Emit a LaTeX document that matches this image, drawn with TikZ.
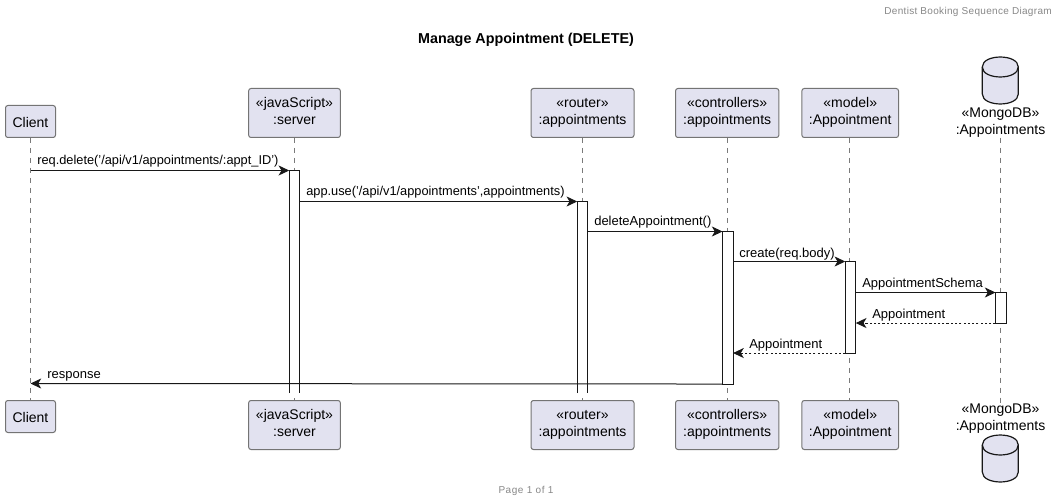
\documentclass[tikz,border=0pt]{standalone}
\usepackage{fontspec}
\setmainfont{Liberation Sans}
\newfontfamily\spaced[LetterSpace=5.5]{Liberation Sans}
\newfontfamily\hspaced[LetterSpace=3.2]{Liberation Sans}
\usetikzlibrary{arrows.meta,shapes.geometric}
\definecolor{pfill}{HTML}{E2E2F0}
\definecolor{pline}{HTML}{181818}
\definecolor{gtext}{HTML}{888888}
\definecolor{lifec}{HTML}{7A7A7A}
\tikzset{
 x=0.75pt,y=-0.75pt,
 part/.style={draw=pline!60,line width=0.75pt,fill=pfill,rounded corners=1.8pt,inner sep=0pt,align=center,font=\fontsize{10.5pt}{12.75pt}\selectfont,text=black,minimum height=36.75pt,
   execute at begin node={\rule{0pt}{11.4pt}},execute at end node={\rule[-2.5pt]{0pt}{2.5pt}}},
 single/.style={part,minimum height=24pt},
 dbtext/.style={inner sep=0pt,align=center,font=\fontsize{10.5pt}{12.75pt}\selectfont,text=black},
 life/.style={draw=lifec,line width=0.6pt,dash pattern=on 3.75pt off 3.75pt},
 bar/.style={fill=white,inner sep=0pt,minimum width=7.5pt},
 barline/.style={draw=pline,line width=0.75pt},
 msg/.style={draw=pline,line width=0.75pt,-{Stealth[length=8pt,width=7.5pt,inset=2.2pt]}},
 ret/.style={msg,dash pattern=on 1.6pt off 1.6pt},
 lab/.style={inner sep=0pt,anchor=base west,font=\fontsize{9.75pt}{11pt}\selectfont,text=black},
 tight/.style={font=\fontsize{9.6pt}{11pt}\selectfont},
 db/.style={draw=pline,line width=0.9pt,fill=pfill}
}
\newcommand{\dbcyl}[1]{%
 \draw[db] (982.3,#1+10) .. controls (982.3,#1-3.3) and (1018.3,#1-3.3) .. (1018.3,#1+10) -- (1018.3,#1+37)
   .. controls (1018.3,#1+50.3) and (982.3,#1+50.3) .. (982.3,#1+37) -- cycle;
 \draw[db,fill=none] (982.3,#1+10) .. controls (982.3,#1+23.3) and (1018.3,#1+23.3) .. (1018.3,#1+10);
}
\begin{document}
\begin{tikzpicture}
\useasboundingbox (0,0) rectangle (1059,502);
\fill[white] (0,0) rectangle (1059,502);
\node[inner sep=0pt,anchor=base east,text=gtext,font=\hspaced\fontsize{7.5pt}{9pt}\selectfont] (hdr) at (1052,15) {Dentist Booking Sequence Diagram};
\node[inner sep=0pt,anchor=base,font=\bfseries\fontsize{10.75pt}{12pt}\selectfont] (ttl) at (526,43.3) {Manage Appointment (DELETE)};
\node[inner sep=0pt,anchor=base,text=gtext,font=\spaced\fontsize{7.5pt}{9pt}\selectfont] (ftr) at (526,493) {Page 1 of 1};

% top participants
\node[single,minimum width=37.5pt] (clT) at (30.5,121.5) {Client};
\node[part,minimum width=68.8pt] (svT) at (294.5,113) {«javaScript»\\:server};
\node[part,minimum width=77.25pt] (rtT) at (582.5,113) {«router»\\:appointments};
\node[part,minimum width=77.5pt] (ctT) at (727.2,113) {«controllers»\\:appointments};
\node[part,minimum width=72.5pt] (moT) at (850.2,113) {«model»\\:Appointment};
\node[dbtext] (dbT) at (1000.5,122.5) {«MongoDB»\\:Appointments};
% bottom participants
\node[single,minimum width=37.5pt] (clB) at (30.5,416.5) {Client};
\node[part,minimum width=68.8pt] (svB) at (294.5,425) {«javaScript»\\:server};
\node[part,minimum width=77.25pt] (rtB) at (582.5,425) {«router»\\:appointments};
\node[part,minimum width=77.5pt] (ctB) at (727.2,425) {«controllers»\\:appointments};
\node[part,minimum width=72.5pt] (moB) at (850.2,425) {«model»\\:Appointment};
\node[dbtext] (dbB) at (1000.5,419) {«MongoDB»\\:Appointments};
\dbcyl{57}
\dbcyl{435}

% lifelines
\draw[life] (clT) -- (clB);
\draw[life] (svT) -- (svB);
\draw[life] (rtT) -- (rtB);
\draw[life] (ctT) -- (ctB);
\draw[life] (849.6,137.8) -- (849.6,400);
\draw[life] (dbT) -- (dbB);

% activation bars
\node[bar,anchor=north,minimum height=166.5pt] (svA) at (294.5,170.5) {};
\node[bar,anchor=north,minimum height=143.25pt] (rtA) at (582.5,201.5) {};
\node[bar,anchor=north,minimum height=114pt] (ctA) at (727.8,231.5) {};
\node[bar,anchor=north,minimum height=68.25pt] (moA) at (850.5,261.5) {};
\node[bar,anchor=north,minimum height=22.5pt] (dbA) at (1000.8,292.5) {};
\draw[barline] (svA.south west) -- (svA.north west) -- (svA.north east) -- (svA.south east);
\draw[barline] (rtA.south west) -- (rtA.north west) -- (rtA.north east) -- (rtA.south east);
\draw[barline] (ctA.south west) rectangle (ctA.north east);
\draw[barline] (moA.south west) rectangle (moA.north east);
\draw[barline] (dbA.south west) rectangle (dbA.north east);

% message end points on client lifeline
\coordinate (c1) at (30.5,170.5);
\coordinate (c2) at (30.5,383.5);

\draw[msg] (c1) -- (svA.north west);
\draw[msg] (svA.east |- rtA.north) -- (rtA.north west);
\draw[msg] (rtA.east |- ctA.north) -- (ctA.north west);
\draw[msg] (ctA.east |- moA.north) -- (moA.north west);
\draw[msg] (moA.east |- dbA.north) -- (dbA.north west);
\draw[ret] (dbA.south west) -- (moA.east |- dbA.south);
\draw[ret] (moA.south west) -- (ctA.east |- moA.south);
\draw[msg] (ctA.south west) -- (c2);

% labels
\node[lab,tight] (l1) at (37,165) {req.delete('/api/v1/appointments/:appt\_ID')};
\node[lab,tight] (l2) at (306,196) {app.use('/api/v1/appointments',appointments)};
\node[lab] (l3) at (594,226) {deleteAppointment()};
\node[lab] (l4) at (739,257.5) {create(req.body)};
\node[lab] (l5) at (862,287.5) {AppointmentSchema};
\node[lab] (l6) at (872,318) {Appointment};
\node[lab] (l7) at (749,348) {Appointment};
\node[lab] (l8) at (47,378) {response};
\end{tikzpicture}
\end{document}
